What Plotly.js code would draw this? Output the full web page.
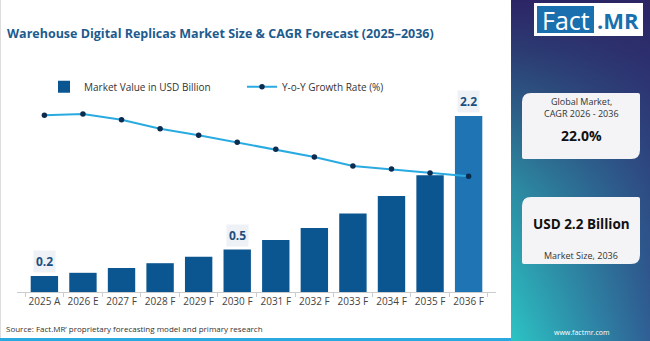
<!DOCTYPE html>
<html>
<head>
<meta charset="utf-8">
<script src="https://cdn.plot.ly/plotly-3.0.1.min.js"></script>
<style>html,body{margin:0;padding:0;background:#fff;}#chart{width:650px;height:341px;}</style>
</head>
<body>
<div id="chart"></div>
<script>
// ---- data ----
const years = ["2025 A","2026 E","2027 F","2028 F","2029 F","2030 F","2031 F","2032 F","2033 F","2034 F","2035 F","2036 F"];
const marketValue = [0.20,0.24,0.30,0.36,0.44,0.53,0.65,0.80,0.98,1.20,1.46,2.20];
const growthRate = [27.6,27.8,26.9,25.5,24.5,23.4,22.3,21.1,19.7,19.2,18.6,18.1];
const labelledYears = ["2025 A","2030 F","2036 F"];
const cagrText = "22.0%";
const marketSizeText = "USD 2.2 Billion";

const W = 650, H = 341;
const px = x => x / W;
const py = y => 1 - y / H;
const FONT = "Open Sans, sans-serif";

const barColors = years.map((y, i) => i === years.length - 1 ? "#1f74b4" : "#0b5690");

const traces = [
  {
    type: "bar", name: "Market Value in USD Billion",
    x: years, y: marketValue, marker: {color: barColors},
    hoverinfo: "x+y"
  },
  {
    type: "scatter", mode: "lines+markers", name: "Y-o-Y Growth Rate (%)",
    x: years, y: growthRate, yaxis: "y2",
    line: {color: "#29abe2", width: 2},
    marker: {color: "#0d2b4e", size: 5.5}
  }
];

function roundedCard(x0, y0, x1, y1, rBig, rSmall) {
  const X = v => px(v).toFixed(5), Y = v => py(v).toFixed(5);
  return "M" + X(x0 + rBig) + "," + Y(y0) +
    " L" + X(x1 - rSmall) + "," + Y(y0) +
    " Q" + X(x1) + "," + Y(y0) + " " + X(x1) + "," + Y(y0 + rSmall) +
    " L" + X(x1) + "," + Y(y1 - rBig) +
    " Q" + X(x1) + "," + Y(y1) + " " + X(x1 - rBig) + "," + Y(y1) +
    " L" + X(x0 + rSmall) + "," + Y(y1) +
    " Q" + X(x0) + "," + Y(y1) + " " + X(x0) + "," + Y(y1 - rSmall) +
    " L" + X(x0) + "," + Y(y0 + rBig) +
    " Q" + X(x0) + "," + Y(y0) + " " + X(x0 + rBig) + "," + Y(y0) + " Z";
}

const gradSvg = '<svg xmlns="http://www.w3.org/2000/svg" width="139" height="341" viewBox="0 0 139 341" preserveAspectRatio="none">' +
  '<defs>' +
  '<linearGradient id="h" x1="0" y1="0" x2="1" y2="0">' +
  '<stop offset="0" stop-color="#2cc4c4"/><stop offset="1" stop-color="#2f5f94"/></linearGradient>' +
  '<linearGradient id="v" x1="0" y1="0" x2="0" y2="1">' +
  '<stop offset="0" stop-color="#2c2565" stop-opacity="1"/>' +
  '<stop offset="0.15" stop-color="#2c2565" stop-opacity="0.85"/>' +
  '<stop offset="0.55" stop-color="#2c2565" stop-opacity="0.35"/>' +
  '<stop offset="1" stop-color="#2c2565" stop-opacity="0"/></linearGradient>' +
  '</defs>' +
  '<rect width="139" height="341" fill="url(#h)"/>' +
  '<rect width="139" height="341" fill="url(#v)"/></svg>';

const images = [{
  source: "data:image/svg+xml;charset=utf-8," + encodeURIComponent(gradSvg),
  xref: "paper", yref: "paper", x: px(511), y: 1, sizex: 139 / W, sizey: 1,
  xanchor: "left", yanchor: "top", sizing: "stretch", layer: "below"
}];

const shapes = [
  // bottom strip
  {type: "rect", xref: "paper", yref: "paper", x0: 0, x1: px(511), y0: py(341), y1: py(338), fillcolor: "#29a9e0", line: {width: 0}},
  // left frame line
  {type: "line", xref: "paper", yref: "paper", x0: px(0.5), x1: px(0.5), y0: py(338), y1: py(0), line: {color: "#dddddd", width: 1}},
  // logo
  {type: "rect", xref: "paper", yref: "paper", x0: px(534), x1: px(643), y0: py(36), y1: py(3), fillcolor: "#ffffff", line: {width: 0}, layer: "above"},
  {type: "rect", xref: "paper", yref: "paper", x0: px(537), x1: px(594), y0: py(33), y1: py(6), fillcolor: "#1a6fae", line: {width: 0}, layer: "above"},
  // cards
  {type: "path", xref: "paper", yref: "paper", path: roundedCard(522, 93, 640, 159, 9, 2), fillcolor: "#f4f4f6", line: {width: 0}, layer: "above"},
  {type: "path", xref: "paper", yref: "paper", path: roundedCard(522, 197, 640, 264, 9, 2), fillcolor: "#f4f4f6", line: {width: 0}, layer: "above"}
];

const annotations = [];
years.forEach((y, i) => {
  if (labelledYears.includes(y)) {
    annotations.push({
      x: y, y: marketValue[i], xref: "x", yref: "y",
      text: "<b>" + marketValue[i].toFixed(1) + "</b>",
      showarrow: false, yanchor: "bottom", yshift: 3,
      font: {family: FONT, size: 12, color: "#1c4f80"},
      bgcolor: "#eef1f5", borderpad: 2
    });
  }
});
const paperText = (x, y, text, size, color, opts) => Object.assign({
  xref: "paper", yref: "paper", x: px(x), y: py(y), text: text, showarrow: false,
  xanchor: "center", yanchor: "middle", font: {family: FONT, size: size, color: color}
}, opts || {});
annotations.push(
  paperText(4, 328.7, "Source: Fact.MR’ proprietary forecasting model and primary research", 8, "#333333", {xanchor: "left"}),
  paperText(565.5, 20, "Fact", 25, "#ffffff"),
  paperText(618, 20, "<b>.MR</b>", 22, "#1a6fae"),
  paperText(581, 101.5, "Global Market,", 9, "#333333"),
  paperText(581, 113.5, "CAGR 2026 - 2036", 9, "#333333"),
  paperText(581, 135, "<b>" + cagrText + "</b>", 14, "#111111"),
  paperText(581, 224.3, "<b>" + marketSizeText + "</b>", 13.5, "#111111"),
  paperText(581, 255.7, "Market Size, 2036", 9, "#333333"),
  paperText(581, 332, "www.factmr.com", 7, "#ffffff")
);

const layout = {
  width: W, height: H,
  margin: {l: 0, r: 0, t: 0, b: 0, pad: 0},
  paper_bgcolor: "#ffffff", plot_bgcolor: "rgba(0,0,0,0)",
  font: {family: FONT, color: "#333333"},
  title: {
    text: "<b>Warehouse Digital Replicas Market Size & CAGR Forecast (2025–2036)</b>",
    x: px(7), xanchor: "left", xref: "container", y: py(34), yanchor: "middle", yref: "container",
    font: {family: FONT, size: 12.5, color: "#1d5b8e"}
  },
  bargap: 0.29,
  showlegend: true,
  legend: {
    orientation: "h", x: px(44), xanchor: "left", y: py(86.7), yanchor: "middle",
    font: {family: FONT, size: 10, color: "#333333"},
    bgcolor: "rgba(0,0,0,0)", entrywidth: 153, entrywidthmode: "pixels", traceorder: "normal"
  },
  xaxis: {
    domain: [px(17), px(496)], type: "category",
    showline: true, linecolor: "#cccccc", linewidth: 1,
    ticks: "outside", tickson: "boundaries", ticklen: 4, tickcolor: "#cccccc",
    tickangle: 0, tickfont: {family: FONT, size: 10, color: "#444444"},
    showgrid: false, zeroline: false, fixedrange: true
  },
  yaxis: {
    domain: [py(292), py(100)], range: [0, 2.4],
    visible: false, showgrid: false, zeroline: false, fixedrange: true
  },
  yaxis2: {
    overlaying: "y", range: [0, 30], visible: false, showgrid: false, zeroline: false
  },
  images: images,
  shapes: shapes,
  annotations: annotations
};

Plotly.newPlot("chart", traces, layout, {displayModeBar: false, staticPlot: true});
</script>
</body>
</html>
